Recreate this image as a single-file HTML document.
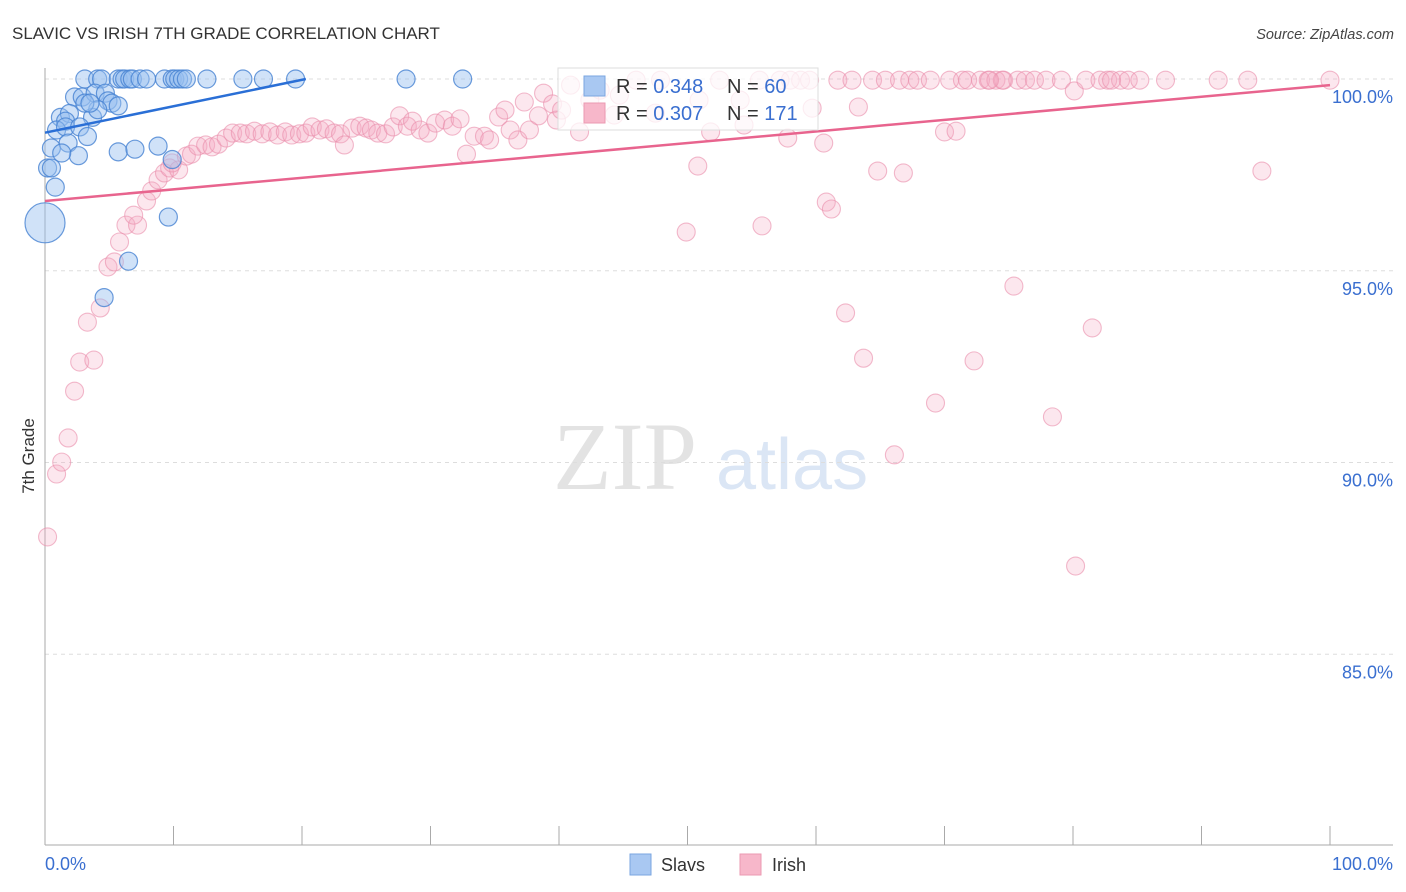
<!DOCTYPE html>
<html><head><meta charset="utf-8">
<style>
body{margin:0;background:#fff;width:1406px;height:892px;overflow:hidden;font-family:"Liberation Sans",sans-serif;}
svg{position:absolute;left:0;top:0}
</style></head>
<body>
<svg id="chart" width="1406" height="892">
<text x="12" y="39" font-size="17" fill="#333">SLAVIC VS IRISH 7TH GRADE CORRELATION CHART</text>
<text x="1394" y="39" font-size="14.5" fill="#444" font-style="italic" text-anchor="end">Source: ZipAtlas.com</text>
<g>
<text x="553" y="489" font-family="Liberation Serif,serif" font-size="96" fill="#e3e3e3">ZIP</text>
<text x="716" y="489" font-size="72" fill="#dbe6f5">atlas</text>
</g>
<g id="grid"></g>
<g id="axes"></g>
<g id="pink"></g>
<g id="blue"></g>
<g id="trends"></g>
<text transform="translate(34,456) rotate(-90)" font-size="17" fill="#333" text-anchor="middle">7th Grade</text>
<g>
<rect x="558" y="68" width="260" height="62" fill="#fff" fill-opacity="0.75" stroke="#ddd"/>
<rect x="584" y="76" width="21" height="20" fill="#a9c8f2" stroke="#7aa6e0"/>
<rect x="584" y="103" width="21" height="20" fill="#f7b7ca" stroke="#eb9ab2"/>
<text x="616" y="93" font-size="20" fill="#333">R = <tspan fill="#3a6fd0">0.348</tspan></text>
<text x="727" y="93" font-size="20" fill="#333">N = <tspan fill="#3a6fd0"> 60</tspan></text>
<text x="616" y="120" font-size="20" fill="#333">R = <tspan fill="#3a6fd0">0.307</tspan></text>
<text x="727" y="120" font-size="20" fill="#333">N = <tspan fill="#3a6fd0">171</tspan></text>
</g>
<g>
<rect x="630" y="854" width="21" height="21" fill="#a9c8f2" stroke="#7aa6e0"/>
<text x="661" y="871" font-size="18" fill="#333">Slavs</text>
<rect x="740" y="854" width="21" height="21" fill="#f7b7ca" stroke="#eb9ab2"/>
<text x="772" y="871" font-size="18" fill="#333">Irish</text>
</g>
</svg>
<script>
const yTicks=[100,95,90,85];
const yTickLabels=["100.0%","95.0%","90.0%","85.0%"];
const xTickVals=[0,10,20,30,40,50,60,70,80,90,100];
const slavsX=[3.1,4.1,4.4,5.7,6.0,6.2,6.6,6.8,7.4,7.9,9.3,9.9,10.1,10.4,10.7,11.0,12.6,15.4,17.0,19.5,28.1,32.5,2.3,2.9,3.9,4.7,4.9,5.2,5.7,1.2,1.9,1.6,3.7,4.1,3.1,3.5,0.9,1.6,2.7,3.3,0.5,1.8,2.6,1.3,0.2,0.5,0.8,5.7,7.0,8.8,9.9,9.6,6.5,4.6];
const slavsY=[100,100,100,100,100,100,100,100,100,100,100,100,100,100,100,100,100,100,100,100,100,100,99.53,99.53,99.63,99.63,99.43,99.37,99.3,99.0,99.1,98.9,99.0,99.2,99.37,99.37,98.67,98.75,98.75,98.5,98.2,98.33,98.0,98.07,97.68,97.68,97.18,98.1,98.17,98.25,97.9,96.4,95.25,94.3];
const irishX=[0.2,0.9,1.3,1.8,2.3,2.7,3.8,3.3,4.3,4.9,5.4,5.8,6.3,7.2,6.9,7.9,8.3,8.8,9.3,9.7,10.4,9.9,11.0,11.4,11.9,12.5,13.0,13.5,14.1,14.6,15.2,15.7,16.3,16.9,17.5,18.1,18.7,19.2,19.8,20.3,20.8,21.4,21.9,22.5,23.0,23.3,23.9,24.5,25.0,25.4,25.9,26.5,27.1,27.6,28.2,28.6,29.2,29.8,30.4,31.1,31.7,32.3,32.8,33.4,34.2,34.6,35.3,35.8,36.2,36.8,37.3,37.7,38.4,38.8,39.5,39.8,40.2,41.6,43.2,44.3,46.0,47.5,47.9,49.9,50.8,51.8,52.5,54.1,54.4,55.8,57.2,57.8,58.8,59.7,60.6,60.8,61.2,61.7,62.3,62.8,63.3,63.7,64.4,64.8,65.4,66.1,66.5,66.8,67.3,67.9,68.9,69.3,70.0,70.4,70.9,71.4,71.8,72.3,72.8,73.4,74.0,74.6,75.4,75.7,76.3,77.0,77.9,78.4,79.1,80.1,80.2,81.0,81.5,82.1,82.7,83.7,84.3,85.2,87.2,91.3,93.6,94.7,100,74.5,73.5,83.0,40.9,42.4,44.7,50.9,55.6,58.0,59.5];
const irishY=[88.06,89.7,90.01,90.64,91.86,92.62,92.67,93.66,94.03,95.1,95.23,95.75,96.19,96.19,96.45,96.82,97.08,97.37,97.55,97.68,97.63,97.81,97.99,98.04,98.25,98.28,98.23,98.3,98.46,98.59,98.59,98.57,98.64,98.57,98.62,98.54,98.62,98.54,98.57,98.59,98.75,98.67,98.7,98.59,98.57,98.28,98.72,98.77,98.72,98.67,98.59,98.57,98.75,99.04,98.77,98.9,98.67,98.59,98.85,98.93,98.77,98.96,98.04,98.51,98.51,98.41,99.01,99.19,98.67,98.41,99.4,98.67,99.04,99.63,99.35,98.93,99.19,98.62,99.71,99.06,99.97,99.11,99.97,96.01,97.73,98.62,99.97,99.45,98.8,96.17,99.97,98.46,99.97,99.24,98.33,96.79,96.61,99.97,93.9,99.97,99.27,92.72,99.97,97.6,99.97,90.2,99.97,97.55,99.97,99.97,99.97,91.55,98.62,99.97,98.64,99.97,99.97,92.65,99.97,99.97,99.97,99.97,94.6,99.97,99.97,99.97,99.97,91.19,99.97,99.69,87.3,99.97,93.51,99.97,99.97,99.97,99.97,99.97,99.97,99.97,99.97,97.6,99.97,99.97,99.97,99.97,99.84,99.45,99.58,99.45,99.97,99.97,99.97];
const slavsTrend=[[0,98.6],[20.3,100]];
const irishTrend=[[0,96.82],[100,99.84]];
const slavsBig=[0,96.25];

const NS="http://www.w3.org/2000/svg";
const X0=45,X1=1330,Y100=79,PXPCT=38.35;
const xs=v=>X0+(X1-X0)*v/100;
const ys=v=>Y100+(100-v)*PXPCT;
function mk(tag,attrs,parent){const e=document.createElementNS(NS,tag);for(const k in attrs)e.setAttribute(k,attrs[k]);parent.appendChild(e);return e;}
const grid=document.getElementById('grid'),axes=document.getElementById('axes');
yTicks.forEach((t,i)=>{
 const l=mk('line',{x1:45,x2:1393,y1:ys(t),y2:ys(t),stroke:'#ddd','stroke-dasharray':'4,4'},grid);
 
 
 const tx=mk('text',{x:1393,y:ys(t)+24,'font-size':18,fill:'#3a6fd0','text-anchor':'end'},grid);
 tx.textContent=yTickLabels[i];
 
 
});
const ya=mk('line',{x1:45,x2:45,y1:68,y2:845,stroke:'#aaa'},axes);


const xa=mk('line',{x1:45,x2:1393,y1:845,y2:845,stroke:'#aaa'},axes);


xTickVals.forEach(v=>{
 const t=mk('line',{x1:xs(v),x2:xs(v),y1:826,y2:845,stroke:'#aaa'},axes);
 
 
});
const xl0=mk('text',{x:45,y:870,'font-size':18,fill:'#3a6fd0'},axes);xl0.textContent='0.0%';


const xl1=mk('text',{x:1393,y:870,'font-size':18,fill:'#3a6fd0','text-anchor':'end'},axes);xl1.textContent='100.0%';



const pink=document.getElementById('pink');
irishX.forEach((x,i)=>{
 const c=mk('circle',{cx:xs(x),cy:ys(irishY[i]),r:9,fill:'rgba(246,168,194,0.28)',stroke:'rgba(234,140,170,0.6)','stroke-width':1.1},pink);
 
 
});
const blue=document.getElementById('blue');
slavsX.forEach((x,i)=>{
 const c=mk('circle',{cx:xs(x),cy:ys(slavsY[i]),r:9,fill:'rgba(150,190,240,0.45)',stroke:'rgba(70,130,210,0.8)','stroke-width':1.2},blue);
 
 
});
const big=mk('circle',{cx:xs(slavsBig[0]),cy:ys(slavsBig[1]),r:20,fill:'rgba(150,190,240,0.45)',stroke:'rgba(70,130,210,0.8)','stroke-width':1.2},blue);


const tr=document.getElementById('trends');
const t1=mk('line',{x1:xs(slavsTrend[0][0]),y1:ys(slavsTrend[0][1]),x2:xs(slavsTrend[1][0]),y2:ys(slavsTrend[1][1]),stroke:'#2a6fd6','stroke-width':2.5},tr);


const t2=mk('line',{x1:xs(irishTrend[0][0]),y1:ys(irishTrend[0][1]),x2:xs(irishTrend[1][0]),y2:ys(irishTrend[1][1]),stroke:'#e8648e','stroke-width':2.5},tr);


</script>
</body></html>
